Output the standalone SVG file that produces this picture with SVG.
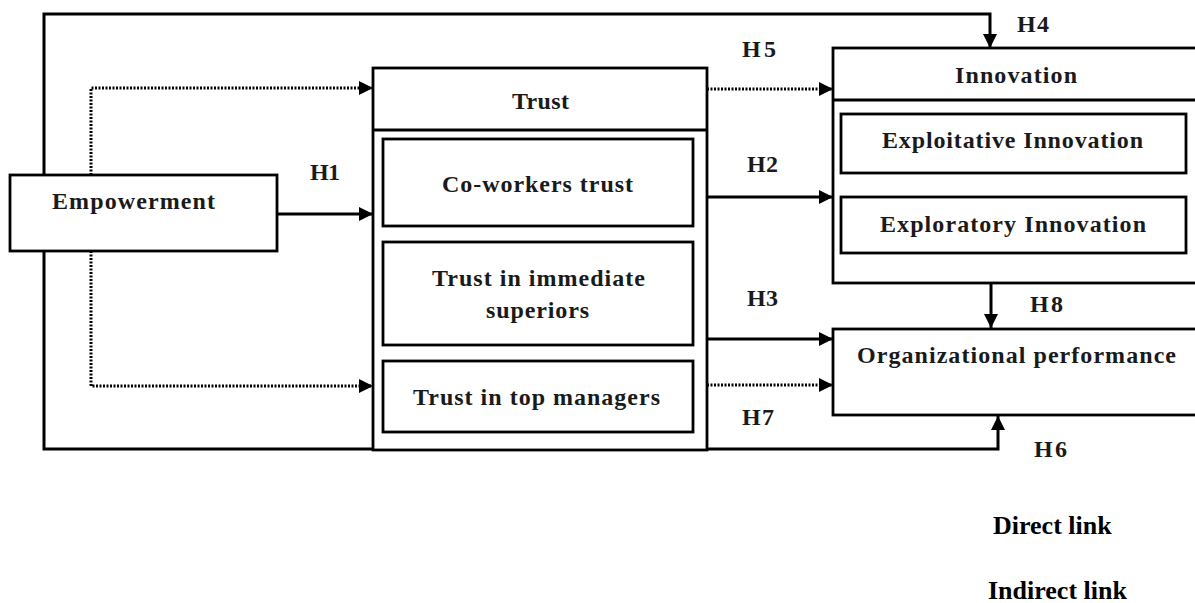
<svg xmlns="http://www.w3.org/2000/svg" width="1195" height="603" viewBox="0 0 1195 603">
<style>
  .box { fill: #fff; stroke: #000; stroke-width: 2.8; }
  .sep { stroke: #000; stroke-width: 2.8; }
  .t { font-family: "Liberation Serif", "Times New Roman", serif; font-weight: bold; font-size: 24px; fill: #1a1a1a; }
  .lg { font-family: "Liberation Serif", "Times New Roman", serif; font-weight: bold; font-size: 26px; fill: #000; }
  .solid { fill: none; stroke: #000; stroke-width: 3; }
  .dot { fill: none; stroke: #000; stroke-width: 3; stroke-dasharray: 2 1.5; }
</style>
<defs>
  <marker id="arr" markerUnits="userSpaceOnUse" markerWidth="16" markerHeight="16" refX="14" refY="7" orient="auto">
    <path d="M0,0 L14,7 L0,14 z" fill="#000"/>
  </marker>
</defs>
<rect width="1195" height="603" fill="#fff"/>

<g id="connectors">
  <path class="solid" d="M44,175 V14 H990 V48" marker-end="url(#arr)"/>
  <path class="solid" d="M44,251 V449 H998 V416" marker-end="url(#arr)"/>
  <path class="dot" d="M91,175 V88 H373" marker-end="url(#arr)"/>
  <path class="dot" d="M91,251 V386 H373" marker-end="url(#arr)"/>
  <path class="solid" d="M277,214 H373" marker-end="url(#arr)"/>
  <path class="dot" d="M707,89 H833" marker-end="url(#arr)"/>
  <path class="solid" d="M707,197 H833" marker-end="url(#arr)"/>
  <path class="solid" d="M707,339 H833" marker-end="url(#arr)"/>
  <path class="dot" d="M707,385 H833" marker-end="url(#arr)"/>
  <path class="solid" d="M991,283 V328" marker-end="url(#arr)"/>
  <text class="t" x="310" y="180" textLength="30" lengthAdjust="spacing">H1</text>
  <text class="t" x="747" y="172" textLength="31" lengthAdjust="spacing">H2</text>
  <text class="t" x="747" y="306" textLength="31" lengthAdjust="spacing">H3</text>
  <text class="t" x="1017" y="32" textLength="32" lengthAdjust="spacing">H4</text>
  <text class="t" x="742" y="57" textLength="34" lengthAdjust="spacing">H5</text>
  <text class="t" x="1034" y="457" textLength="33" lengthAdjust="spacing">H6</text>
  <text class="t" x="742" y="425" textLength="32" lengthAdjust="spacing">H7</text>
  <text class="t" x="1030" y="312" textLength="33" lengthAdjust="spacing">H8</text>
</g>

<g id="empowerment">
  <rect class="box" x="10" y="175" width="267" height="76"/>
  <text class="t" x="52" y="209" textLength="163" lengthAdjust="spacing">Empowerment</text>
</g>

<g id="trust">
  <rect class="box" x="373" y="68" width="334" height="382"/>
  <line class="sep" x1="373" y1="130" x2="707" y2="130"/>
  <text class="t" x="512" y="109" textLength="57" lengthAdjust="spacing">Trust</text>
</g>

<g id="coworkers-trust">
  <rect class="box" x="383" y="139" width="310" height="87"/>
  <text class="t" x="442" y="192" textLength="191" lengthAdjust="spacing">Co-workers trust</text>
</g>

<g id="trust-immediate-superiors">
  <rect class="box" x="383" y="242" width="310" height="103"/>
  <text class="t" x="432" y="286" textLength="213" lengthAdjust="spacing">Trust in immediate</text>
  <text class="t" x="486" y="318" textLength="103" lengthAdjust="spacing">superiors</text>
</g>

<g id="trust-top-managers">
  <rect class="box" x="383" y="361" width="310" height="71"/>
  <text class="t" x="413" y="405" textLength="247" lengthAdjust="spacing">Trust in top managers</text>
</g>

<g id="innovation">
  <rect class="box" x="833" y="48" width="380" height="235"/>
  <line class="sep" x1="833" y1="100" x2="1200" y2="100"/>
  <text class="t" x="955" y="83" textLength="122" lengthAdjust="spacing">Innovation</text>
</g>

<g id="exploitative-innovation">
  <rect class="box" x="841" y="114" width="345" height="59"/>
  <text class="t" x="882" y="148" textLength="261" lengthAdjust="spacing">Exploitative Innovation</text>
</g>

<g id="exploratory-innovation">
  <rect class="box" x="841" y="197" width="345" height="56"/>
  <text class="t" x="880" y="232" textLength="266" lengthAdjust="spacing">Exploratory Innovation</text>
</g>

<g id="organizational-performance">
  <rect class="box" x="833" y="329" width="380" height="86"/>
  <text class="t" x="857" y="363" textLength="319" lengthAdjust="spacing">Organizational performance</text>
</g>

<g id="legend">
  <text class="lg" x="993" y="534">Direct link</text>
  <text class="lg" x="988" y="599">Indirect link</text>
</g>
</svg>
